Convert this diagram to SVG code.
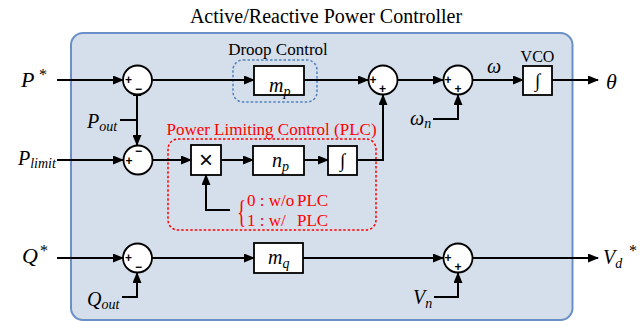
<svg xmlns="http://www.w3.org/2000/svg" width="640" height="321" viewBox="0 0 640 321">
<defs>
<marker id="arr" markerUnits="userSpaceOnUse" markerWidth="11" markerHeight="9" refX="10" refY="4.5" orient="auto">
<path d="M0,0 L11,4.5 L0,9 z" fill="#000"/>
</marker>
<marker id="arrs" markerUnits="userSpaceOnUse" markerWidth="11" markerHeight="9" refX="1" refY="4.5" orient="auto-start-reverse">
<path d="M0,0 L11,4.5 L0,9 z" fill="#000"/>
</marker>
<style>
.bg{fill:#d5dfeb;stroke:#6b8fc7;stroke-width:2}
.blk{fill:#fff;stroke:#000;stroke-width:1.8}
.sum{fill:#fff;stroke:#000;stroke-width:1.8}
.c{fill:none;stroke:#000;stroke-width:2}
.ca{fill:none;stroke:#000;stroke-width:2;marker-end:url(#arr)}
.t{font-family:"Liberation Serif","Times New Roman",serif;fill:#000}
.m{font-family:"Liberation Serif","Times New Roman",serif;font-style:italic;fill:#000}
.sg{font-family:"Liberation Sans",Arial,sans-serif;font-weight:bold;font-size:12px;fill:#000;text-anchor:middle}
.red{fill:#f00}
.dashb{fill:none;stroke:#4f81bd;stroke-width:1.5;stroke-dasharray:2.5,2}
.dashr{fill:none;stroke:#f00;stroke-width:1.5;stroke-dasharray:2.5,2}
</style>
</defs>
<rect class="bg" x="71" y="33" width="501.5" height="287" rx="12"/>
<text class="t" x="326" y="23" font-size="20" text-anchor="middle">Active/Reactive Power Controller</text>

<g id="droop">
<rect class="dashb" x="233" y="60" width="84" height="42" rx="10"/>
<text class="t" x="278" y="55" font-size="17" text-anchor="middle">Droop Control</text>
</g>
<g id="plc">
<rect class="dashr" x="168" y="139" width="208" height="91" rx="10"/>
<text class="t red" x="271.5" y="135" font-size="17" text-anchor="middle">Power Limiting Control (PLC)</text>
</g>

<g id="connectors">
<path class="ca" d="M57,80 H123"/>
<path class="ca" d="M152,80 H254"/>
<path class="ca" d="M304,80 H368"/>
<path class="ca" d="M398,80 H443"/>
<path class="ca" d="M473,80 H523"/>
<path class="ca" d="M552,80 H598"/>
<path class="ca" d="M433,119 H458 V95"/>
<path class="c" d="M120,120 H137"/>
<path class="c" d="M137,95 V145" style="marker-start:url(#arrs);marker-end:url(#arr)"/>
<path class="ca" d="M57,160 H123"/>
<path class="ca" d="M153,160 H191"/>
<path class="ca" d="M221,160 H253"/>
<path class="ca" d="M304,160 H328"/>
<path class="ca" d="M357,160 H383 V95"/>
<path class="ca" d="M230,210 H206 V175"/>
<path class="ca" d="M57,258 H123"/>
<path class="ca" d="M152,258 H254"/>
<path class="ca" d="M303,258 H443"/>
<path class="ca" d="M473,258 H598"/>
<path class="ca" d="M122,297 H137 V273"/>
<path class="ca" d="M434,297 H458 V273"/>
</g>

<g id="sum1">
<circle class="sum" cx="137.5" cy="80" r="14.5"/>
<text class="sg" x="128.5" y="84">+</text>
<text class="sg" x="138.5" y="93">−</text>
</g>
<g id="sum_plc">
<circle class="sum" cx="138" cy="160" r="14.5"/>
<text class="sg" x="129" y="165">+</text>
<text class="sg" x="138.5" y="155">−</text>
</g>
<g id="sum2">
<circle class="sum" cx="383" cy="80" r="14.5"/>
<text class="sg" x="373" y="84">+</text>
<text class="sg" x="382.5" y="93">+</text>
</g>
<g id="sum3">
<circle class="sum" cx="458" cy="80" r="14.5"/>
<text class="sg" x="448" y="84">+</text>
<text class="sg" x="458" y="93">+</text>
</g>
<g id="sumq">
<circle class="sum" cx="137.5" cy="258" r="14.5"/>
<text class="sg" x="128.5" y="262">+</text>
<text class="sg" x="138.5" y="271">−</text>
</g>
<g id="sumv">
<circle class="sum" cx="458" cy="258" r="14.5"/>
<text class="sg" x="448" y="262">+</text>
<text class="sg" x="458" y="271">+</text>
</g>

<g id="mp">
<rect class="blk" x="254" y="66" width="50" height="29"/>
<text class="m" x="269" y="92" font-size="20">m<tspan font-size="14" dy="4">p</tspan></text>
</g>
<g id="vco">
<rect class="blk" x="523" y="66" width="29" height="29"/>
<text class="t" x="537.5" y="87" font-size="19" text-anchor="middle">∫</text>
<text class="t" x="537.5" y="62" font-size="16" text-anchor="middle">VCO</text>
</g>
<g id="mult">
<rect class="blk" x="191" y="145" width="30" height="30"/>
<text x="206" y="168" font-family="Liberation Sans,Arial,sans-serif" font-size="24" text-anchor="middle">×</text>
</g>
<g id="np">
<rect class="blk" x="253" y="146" width="51" height="29"/>
<text class="m" x="272" y="167" font-size="20">n<tspan font-size="14" dy="4">p</tspan></text>
</g>
<g id="integ">
<rect class="blk" x="328" y="146" width="29" height="29"/>
<text class="t" x="342.5" y="167" font-size="19" text-anchor="middle">∫</text>
</g>
<g id="mq">
<rect class="blk" x="254" y="243" width="49" height="30"/>
<text class="m" x="268" y="264" font-size="20">m<tspan font-size="14" dy="4">q</tspan></text>
</g>

<g id="sel">
<text class="t red" transform="translate(237,223) scale(0.6,1)" font-size="32">{</text>
<text class="t red" x="247" y="206" font-size="17">0 : w/o <tspan x="297">PLC</tspan></text>
<text class="t red" x="247" y="226" font-size="17">1 : w/ <tspan x="297">PLC</tspan></text>
</g>

<g id="labels">
<text class="m" x="21" y="87" font-size="22">P</text>
<text class="t" x="39" y="80" font-size="16">*</text>
<text class="m" x="87" y="128" font-size="20">P<tspan font-size="14" dy="3">out</tspan></text>
<text class="m" x="18" y="165" font-size="20">P<tspan font-size="14" dy="3">limit</tspan></text>
<text class="m" x="22" y="263" font-size="22">Q</text>
<text class="t" x="40" y="256" font-size="16">*</text>
<text class="m" x="87" y="306" font-size="20">Q<tspan font-size="14" dy="3">out</tspan></text>
<text class="m" x="413" y="304" font-size="20">V<tspan font-size="14" dy="4">n</tspan></text>
<text class="m" x="603" y="264" font-size="20">V<tspan font-size="14" dy="4">d</tspan></text>
<text class="t" x="629" y="256" font-size="16">*</text>
<text class="m" x="487" y="73" font-size="20">ω</text>
<text class="m" x="410" y="125" font-size="20">ω<tspan font-size="14" dy="3">n</tspan></text>
<text class="m" x="606" y="89" font-size="22">θ</text>
</g>
</svg>
